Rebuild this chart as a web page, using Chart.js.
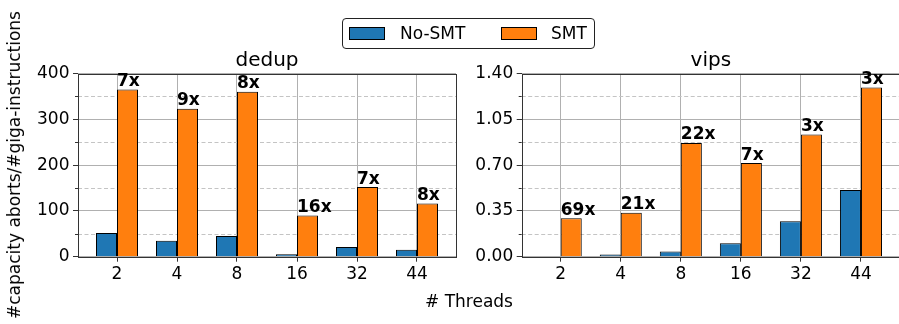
<!DOCTYPE html>
<html>
<head>
<meta charset="utf-8">
<script src="https://cdn.jsdelivr.net/npm/chart.js@4/dist/chart.umd.min.js"></script>
<style>
  html, body { margin: 0; padding: 0; background: #fff; overflow: hidden; }
  #fig { position: relative; width: 899px; height: 324px; overflow: hidden; font-family: 'DejaVu Sans', sans-serif; color: #000; }
  #fig canvas { position: absolute; left: 0; top: 0; }
  #legend { position: absolute; left: 342px; top: 18px; width: 251px; height: 29px; border: 1px solid #222; border-radius: 4px; background: #fff; }
  #legend .patch { position: absolute; top: 8px; width: 34px; height: 11px; border: 1px solid #000; }
  #legend .txt { position: absolute; top: 0; height: 29px; line-height: 29px; font-size: 17px; white-space: nowrap; }
  #ylabel { position: absolute; left: 14px; top: 165px; transform: translate(-50%, -50%) rotate(-90deg); white-space: nowrap; font-size: 17px; line-height: 20px; }
  #xlabel { position: absolute; left: 469px; top: 291px; transform: translateX(-50%); white-space: nowrap; font-size: 17px; line-height: 20px; }
</style>
</head>
<body>
<div id="fig">
  <canvas id="dedup" width="899" height="324"></canvas>
  <canvas id="vips" width="900" height="324"></canvas>
  <div id="legend">
    <div class="patch" style="left:6px;background:#1f77b4"></div>
    <div class="txt" style="left:57px">No-SMT</div>
    <div class="patch" style="left:158px;background:#ff7f0e"></div>
    <div class="txt" style="left:208px">SMT</div>
  </div>
  <div id="ylabel">#capacity aborts/#giga-instructions</div>
  <div id="xlabel"># Threads</div>
</div>
<script>
// Thread counts on the x axis
const threads = ['2', '4', '8', '16', '32', '44'];

// dedup: capacity aborts per giga-instruction
const dedupNoSmt = [52, 35, 45, 5.6, 21, 15];
const dedupSmt = [365, 323, 360, 90, 152, 116];
const dedupTicks = [0, 100, 200, 300, 400];
const dedupMinor = [50, 150, 250, 350];

// vips: capacity aborts per giga-instruction
const vipsNoSmt = [0.00426, 0.016, 0.0395, 0.102, 0.271, 0.51];
const vipsSmt = [0.294, 0.335, 0.869, 0.716, 0.933, 1.293];
const vipsTicks = [0, 0.35, 0.70, 1.05, 1.40];
const vipsMinor = [0.175, 0.525, 0.875, 1.225];

const FONT = "'DejaVu Sans', sans-serif";
const SPINE = '#333';

// SMT / No-SMT ratio printed above each SMT bar
const ratioLabels = (noSmt, smt) => smt.map((v, i) => Math.round(v / noSmt[i]) + 'x');

// Minor dashed grid, spines, panel title and ratio labels
const panelPlugin = {
  id: 'panel',
  beforeDatasetsDraw(chart, args, opts) {
    const { ctx, chartArea: a } = chart;
    const y = chart.scales.y;
    ctx.save();
    ctx.lineWidth = 1;
    opts.minor.forEach(v => {
      const py = Math.round(y.getPixelForValue(v)) + 0.5;
      ctx.strokeStyle = '#c4c4c4';
      ctx.setLineDash([4, 2.5]);
      ctx.beginPath(); ctx.moveTo(a.left, py); ctx.lineTo(a.right, py); ctx.stroke();
      ctx.setLineDash([]);
      ctx.strokeStyle = SPINE;
      ctx.beginPath(); ctx.moveTo(a.left - 3, py); ctx.lineTo(a.left, py); ctx.stroke();
    });
    ctx.restore();
  },
  afterDatasetsDraw(chart, args, opts) {
    const { ctx, chartArea: a } = chart;
    ctx.save();
    // axes frame
    ctx.strokeStyle = SPINE;
    ctx.lineWidth = 1;
    ctx.strokeRect(Math.round(a.left) + 0.5, Math.round(a.top) + 0.5,
                   Math.round(a.right) - Math.round(a.left), Math.round(a.bottom) - Math.round(a.top));
    // panel title
    ctx.fillStyle = '#000';
    ctx.font = '20px ' + FONT;
    ctx.textAlign = 'center';
    ctx.textBaseline = 'alphabetic';
    ctx.fillText(opts.title, (a.left + a.right) / 2, a.top - 7.5);
    // ratio labels, left-aligned on the SMT bars
    const meta = chart.getDatasetMeta(1);
    ctx.font = 'bold 17px ' + FONT;
    ctx.textAlign = 'left';
    meta.data.forEach((bar, i) => {
      ctx.fillText(opts.labels[i], bar.x - bar.width / 2, bar.y - 3.5);
    });
    ctx.restore();
  }
};

function makePanel(id, title, noSmt, smt, yTicks, yMinor, digits, area) {
  const canvas = document.getElementById(id);
  const yW = 50, xH = 30;
  return new Chart(canvas, {
    type: 'bar',
    data: {
      datasets: [
        { label: 'No-SMT', data: noSmt.map((v, i) => ({ x: i, y: v })),
          backgroundColor: '#1f77b4', borderColor: '#000', borderWidth: 1 },
        { label: 'SMT', data: smt.map((v, i) => ({ x: i, y: v })),
          backgroundColor: '#ff7f0e', borderColor: '#000', borderWidth: 1 }
      ]
    },
    options: {
      responsive: false,
      animation: false,
      devicePixelRatio: 1,
      events: [],
      categoryPercentage: 0.7,
      barPercentage: 1.0,
      layout: {
        padding: {
          left: area.left - yW,
          right: canvas.width - area.right,
          top: area.top,
          bottom: 324 - area.bottom - xH
        }
      },
      plugins: {
        legend: { display: false },
        tooltip: { enabled: false },
        title: { display: false },
        panel: { title: title, labels: ratioLabels(noSmt, smt), minor: yMinor }
      },
      scales: {
        x: {
          type: 'linear',
          min: -0.65,
          max: 5.65,
          offset: false,
          afterBuildTicks: s => { s.ticks = threads.map((t, i) => ({ value: i })); },
          afterFit: s => { s.height = xH; },
          ticks: {
            autoSkip: false,
            maxRotation: 0,
            padding: 3,
            color: '#000',
            font: { family: FONT, size: 17 },
            callback: v => threads[v]
          },
          grid: { offset: false, color: '#b0b0b0', lineWidth: 1, tickLength: 5, tickColor: SPINE },
          border: { display: false }
        },
        y: {
          type: 'linear',
          min: yTicks[0],
          max: yTicks[yTicks.length - 1],
          afterBuildTicks: s => { s.ticks = yTicks.map(v => ({ value: v })); },
          afterFit: s => { s.width = yW; },
          ticks: {
            padding: 3.5,
            color: '#000',
            font: { family: FONT, size: 17 },
            callback: v => v.toFixed(digits)
          },
          grid: { color: '#b0b0b0', lineWidth: 1, tickLength: 5, tickColor: SPINE },
          border: { display: false }
        }
      }
    },
    plugins: [panelPlugin]
  });
}

makePanel('dedup', 'dedup', dedupNoSmt, dedupSmt, dedupTicks, dedupMinor, 0,
          { left: 78, right: 456, top: 73.5, bottom: 256.7 });
makePanel('vips', 'vips', vipsNoSmt, vipsSmt, vipsTicks, vipsMinor, 2,
          { left: 521.7, right: 900, top: 73.5, bottom: 256.7 });
</script>
</body>
</html>
